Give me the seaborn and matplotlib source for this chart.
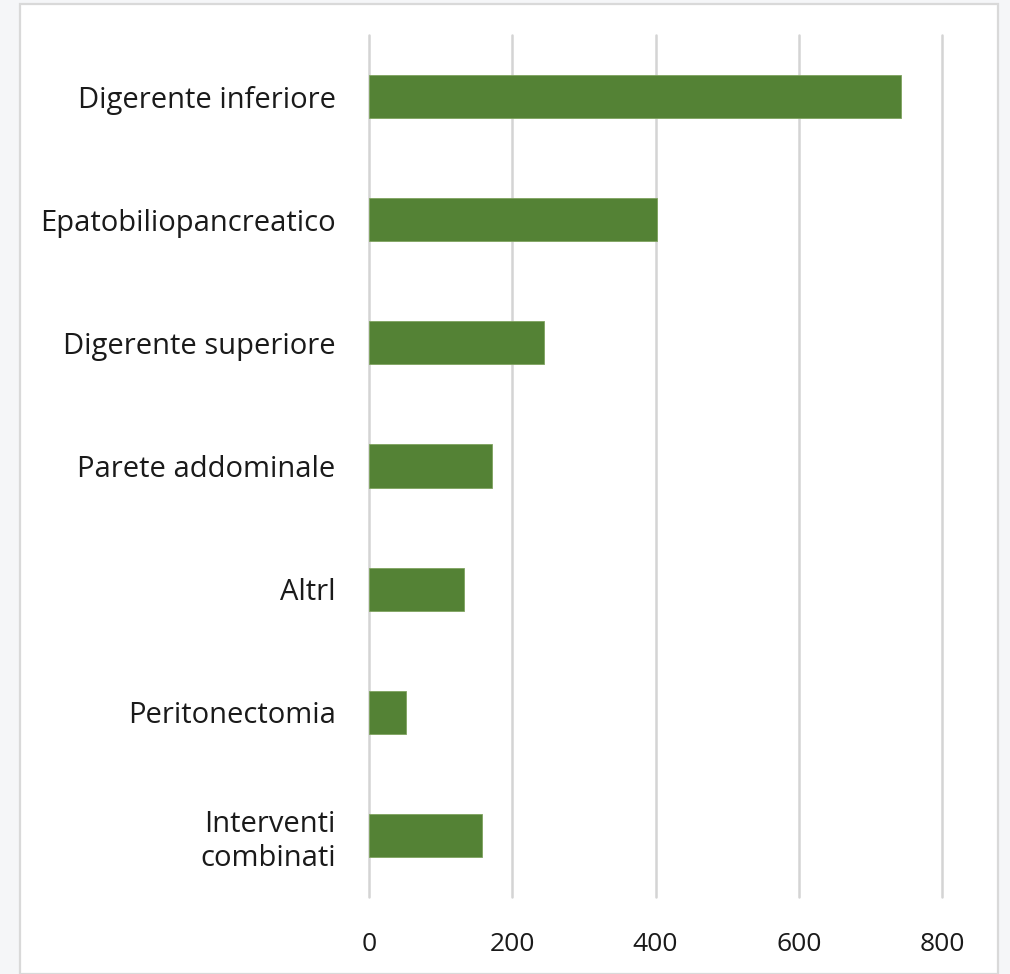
import matplotlib
matplotlib.use("Agg")
import matplotlib.pyplot as plt
import seaborn as sns
import pandas as pd
from matplotlib.patches import Rectangle

categories = ["Digerente inferiore", "Epatobiliopancreatico", "Digerente superiore",
              "Parete addominale", "Altrl", "Peritonectomia", "Interventi\ncombinati"]
values = [743, 402, 245, 172, 133, 52, 158]
x_ticks = [0, 200, 400, 600, 800]

df = pd.DataFrame({"cat": categories, "val": values})

sns.set_theme(style="white")
plt.rcParams["font.family"] = ["Open Sans", "DejaVu Sans"]

W, H = 1010, 974
fig = plt.figure(figsize=(W / 100, H / 100), dpi=100)
fig.patch.set_facecolor("#f5f6f8")

# chart area white box with border
box = Rectangle((20 / W, 0), (998 - 20) / W, (H - 4) / H, transform=fig.transFigure,
                facecolor="white", edgecolor="#d9d9d9", linewidth=1.6, zorder=-10)
fig.patches.append(box)

ax = fig.add_axes([369 / W, 77 / H, 573 / W, 862 / H])
ax.set_zorder(5)
ax.set_facecolor("none")
sns.barplot(data=df, x="val", y="cat", orient="h", color="#548235", width=0.35,
            saturation=1, ax=ax, zorder=3)
for p in ax.patches:
    p.set_edgecolor("#7fa35f")
    p.set_linewidth(0.6)

ax.set_xlim(0, 800)
ax.set_ylim(len(categories) - 0.5, -0.5)
ax.set_xticks(x_ticks)
ax.set_xticklabels([str(t) for t in x_ticks])
ax.xaxis.grid(True, color="#d4d4d4", linewidth=1.8, zorder=0)
ax.set_axisbelow(True)
for gl in ax.get_xgridlines():
    gl.set_clip_on(False)
for s in ax.spines.values():
    s.set_visible(False)
ax.set_xlabel("")
ax.set_ylabel("")
ax.tick_params(axis="y", length=0, pad=24, labelsize=21, labelcolor="#1a1a1a")
ax.tick_params(axis="x", length=0, pad=25, labelsize=19, labelcolor="#1a1a1a")
for lbl in ax.get_yticklabels():
    lbl.set_multialignment("right")
    lbl.set_linespacing(1.25)

fig.savefig("out.png", dpi=100)
